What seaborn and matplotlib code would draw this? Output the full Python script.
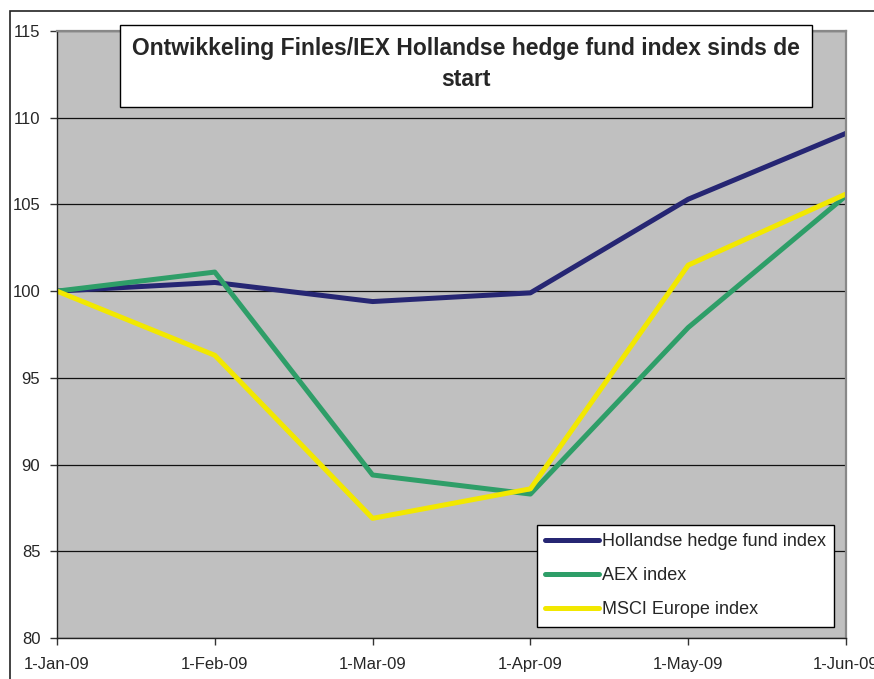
import pandas as pd
import seaborn as sns
import matplotlib.pyplot as plt
from matplotlib.patches import Rectangle

# data
months = ['1-Jan-09', '1-Feb-09', '1-Mar-09', '1-Apr-09', '1-May-09', '1-Jun-09']
hedge_fund = [100.0, 100.5, 99.4, 99.9, 105.3, 109.1]
aex = [100.0, 101.1, 89.4, 88.3, 97.9, 105.5]
msci = [100.0, 96.3, 86.9, 88.6, 101.5, 105.6]
series_names = ['Hollandse hedge fund index', 'AEX index', 'MSCI Europe index']
series_colors = ['#262673', '#2e9e68', '#f2e800']

df = pd.concat([
    pd.DataFrame({'Datum': months, 'Index': vals, 'Reeks': name})
    for name, vals in zip(series_names, [hedge_fund, aex, msci])
])

sns.set_style('white')
plt.rcParams['font.family'] = ['Liberation Sans', 'DejaVu Sans']

W, H = 874, 679
fig = plt.figure(figsize=(W / 100, H / 100), dpi=100)
ax = fig.add_axes([57 / W, 1 - 638 / H, (846 - 57) / W, (638 - 31) / H])
ax.set_facecolor('#c0c0c0')

sns.lineplot(data=df, x='Datum', y='Index', hue='Reeks', hue_order=series_names,
             palette=dict(zip(series_names, series_colors)), linewidth=3.6,
             sort=False, ax=ax, legend=False)

ax.set_xlim(0, len(months) - 1)
ax.set_ylim(80, 115)
ax.set_yticks(range(80, 116, 5))
ax.set_xlabel('')
ax.set_ylabel('')
ax.yaxis.grid(True, color='#111111', linewidth=0.9)
ax.set_axisbelow(True)
ax.tick_params(axis='both', direction='out', length=5, width=1, color='#333333',
               labelsize=12, left=True, bottom=True)
ax.tick_params(axis='x', pad=9)
ax.tick_params(axis='y', pad=7)
for s in ['left', 'bottom']:
    ax.spines[s].set_color('#222222')
    ax.spines[s].set_linewidth(1.0)
for s in ['top', 'right']:
    ax.spines[s].set_color('#888888')
    ax.spines[s].set_linewidth(1.6)

# legend box
handles = [plt.Line2D([], [], color=c, linewidth=3.6, solid_capstyle='round')
           for c in series_colors]
leg = ax.legend(handles, series_names, loc='upper left',
                bbox_to_anchor=(537 / W, 1 - 525 / H), bbox_transform=fig.transFigure,
                frameon=True, fancybox=False, edgecolor='black', framealpha=1,
                fontsize=13, handlelength=3.0, handletextpad=0.15, labelspacing=0.95,
                borderpad=0.45, borderaxespad=0)
leg.get_frame().set_linewidth(1.0)

# title box
fig.patches.append(Rectangle((120 / W, 1 - 107 / H), (812 - 120) / W, (107 - 25) / H,
                             transform=fig.transFigure, facecolor='white',
                             edgecolor='black', linewidth=1.0, zorder=5))
fig.text(466 / W, 1 - 64 / H,
         'Ontwikkeling Finles/IEX Hollandse hedge fund index sinds de\nstart',
         ha='center', va='center', fontsize=16.5, fontweight='bold',
         linespacing=1.45, zorder=6)

# outer chart frame
fig.patches.append(Rectangle((10 / W, -0.2), 1.5, 1.2 - 11 / H, transform=fig.transFigure,
                             fill=False, edgecolor='#222222', linewidth=1.2))

fig.savefig('out.png', dpi=100)
